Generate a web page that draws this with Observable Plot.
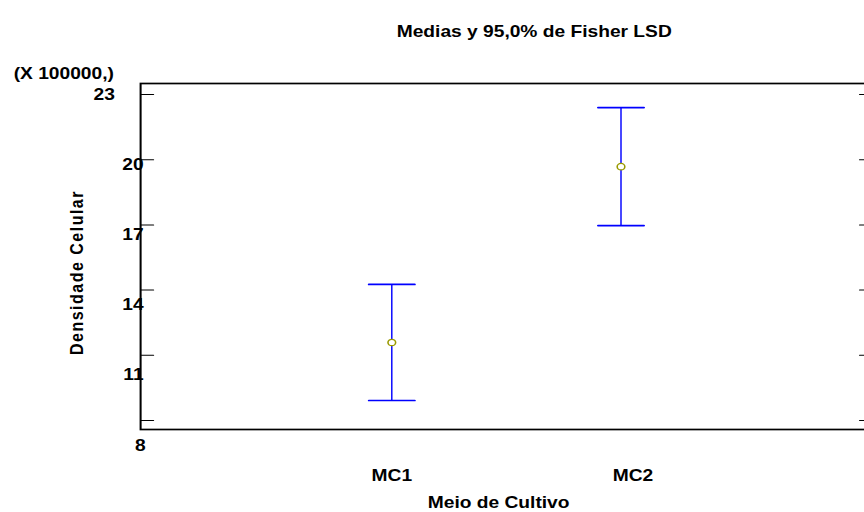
<!DOCTYPE html>
<html><head><meta charset="utf-8">
<script src="https://cdn.jsdelivr.net/npm/d3@7"></script>
<script src="https://cdn.jsdelivr.net/npm/@observablehq/plot@0.6"></script>
<style>
body{margin:0;background:#fff;}
#chart{width:864px;height:512px;overflow:hidden;}
</style>
</head><body><div id="chart"></div>
<script>
// ---- data ----
const categories = ["MC1", "MC2"];
const means = [11.59, 19.68];
const lower = [8.92, 16.97];
const upper = [14.26, 22.40];
const yTicks = [8, 11, 14, 17, 20, 23];
const yTickLabels = ["8", "11", "14", "17", "20", "23"];
const titleText = "Medias y 95,0% de Fisher LSD";
const yLabelText = "Densidade Celular";
const xLabelText = "Meio de Cultivo";
const yUnitsText = "(X 100000,)";

const rows = categories.map((c, i) => ({cat: c, mean: means[i], lo: lower[i], hi: upper[i]}));

// ---- layout (horizontal stretch like the reference) ----
const SX = 1.2;
const W = 864 / SX;
const font = "'Liberation Sans', Arial, Helvetica, sans-serif";
const line = {draw(ctx, l) { ctx.moveTo(0, 0); ctx.lineTo(0, -l); }};
const txt = {fontFamily: font, fontSize: 16, fontWeight: "bold", fill: "#000"};

// y tick labels drift (as in the reference rendering)
const labelY = v => v - (23 - v) * 0.0767;
const labelDx = v => v === 23 ? -21.5 : v === 8 ? 4.2 : 2.5;
const xLabelDx = [0, 10];

const marks = [
  Plot.frame({stroke: "#000", strokeWidth: 1.7}),
  Plot.vector(yTicks, {y: d => d, frameAnchor: "left", rotate: 90, length: 10.8, anchor: "start", shape: line, stroke: "#000", strokeWidth: 1}),
  Plot.vector(yTicks, {y: d => d, frameAnchor: "right", rotate: -90, length: 4.2, anchor: "start", dx: -2, shape: line, stroke: "#000", strokeWidth: 1}),
  ...yTicks.map((v, i) => Plot.text([v], {y: d => labelY(d), text: () => yTickLabels[i], frameAnchor: "left", textAnchor: "end", lineAnchor: "middle", dx: labelDx(v), ...txt})),
  ...categories.map((c, i) => Plot.text([c], {x: d => d, text: d => d, frameAnchor: "bottom", textAnchor: "middle", lineAnchor: "middle", dy: 46, dx: xLabelDx[i], ...txt})),
  Plot.ruleX(rows, {x: "cat", y1: "lo", y2: "hi", stroke: "#0000ff", strokeWidth: 1.2}),
  Plot.vector(rows, {x: "cat", y: "hi", rotate: 90, length: 38.3, anchor: "middle", shape: line, stroke: "#0000ff", strokeWidth: 1.7}),
  Plot.vector(rows, {x: "cat", y: "lo", rotate: 90, length: 38.3, anchor: "middle", shape: line, stroke: "#0000ff", strokeWidth: 1.7}),
  Plot.dot(rows, {x: "cat", y: "mean", r: 3.2, stroke: "#9a9a00", fill: "#fff", strokeWidth: 1.3}),
  Plot.text([titleText], {text: d => d, frameAnchor: "top-left", textAnchor: "middle", lineAnchor: "middle", dx: 328, dy: -52, ...txt}),
  Plot.text([yUnitsText], {text: d => d, frameAnchor: "top-left", textAnchor: "start", lineAnchor: "middle", dx: -105.8, dy: -10, ...txt}),
  Plot.text([yLabelText], {text: d => d, frameAnchor: "left", textAnchor: "middle", lineAnchor: "middle", rotate: -90, dx: -53.3, dy: 16, ...txt}),
  Plot.text([xLabelText], {text: d => d, frameAnchor: "bottom", textAnchor: "middle", lineAnchor: "middle", dx: -4.3, dy: 73, ...txt})
];

const svg = Plot.plot({
  width: W,
  height: 512,
  marginLeft: 140 / SX,
  marginRight: -2,
  marginTop: 83,
  marginBottom: 83,
  style: {fontFamily: font, background: "#fff", overflow: "visible"},
  x: {type: "point", domain: categories, range: [391.5 / SX, 621 / SX], padding: 0, axis: null},
  y: {domain: [7.586, 23.506], axis: null},
  marks
});
svg.querySelectorAll("text").forEach(t => {
  if (t.textContent === yLabelText) t.setAttribute("letter-spacing", "1.5");
});
svg.setAttribute("preserveAspectRatio", "none");
svg.style.width = "864px";
svg.style.height = "512px";
svg.style.maxWidth = "none";
document.getElementById("chart").appendChild(svg);
</script>
</body></html>
